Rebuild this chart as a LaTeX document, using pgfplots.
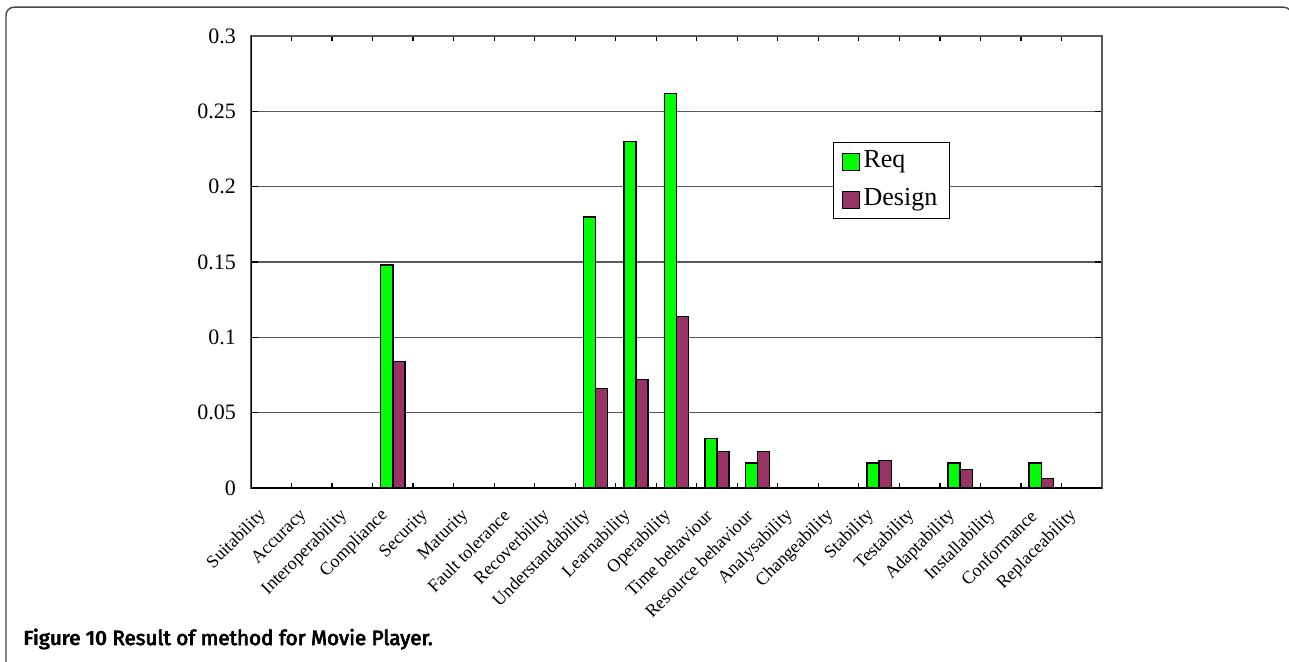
\documentclass[border=0pt]{standalone}
\usepackage{fontspec}
\setmainfont{Liberation Serif}
\newfontfamily\capfont{Fira Sans}
\newfontfamily\capmed{Fira Sans}[FakeBold=3.5]
\usepackage{pgfplots}
\pgfplotsset{compat=1.18}

\definecolor{reqgreen}{RGB}{0,255,0}
\definecolor{desplum}{RGB}{153,51,102}
\definecolor{gridgray}{RGB}{90,90,90}
\definecolor{framegray}{RGB}{70,70,70}

\begin{document}
\begin{tikzpicture}
\useasboundingbox (0,0) rectangle (644.5pt,-331pt);
% outer figure frame
\draw[framegray, line width=0.7pt, rounded corners=4pt] (3pt,-400pt) rectangle (645.8pt,-3.6pt);

\begin{axis}[
  at={(125.5pt,-244pt)}, anchor=south west,
  width=425.5pt, height=226pt, scale only axis,
  xmin=-0.5, xmax=20.5, ymin=0, ymax=0.3,
  ytick={0,0.05,...,0.3},
  /pgf/number format/assume math mode=true,
  /pgf/number format/fixed, /pgf/number format/precision=2,
  yticklabel style={font=\fontsize{11}{13}\selectfont, xshift=-4pt},
  ymajorgrids, grid style={gridgray, line width=0.6pt},
  xtick={0,...,20},
  xticklabels={Suitability,Accuracy,Interoperability,Compliance,Security,Maturity,Fault tolerance,Recoverbility,Understandability,Learnability,Operability,Time behaviour,Resource behaviour,Analysability,Changeability,Stability,Testability,Adaptability,Installability,Conformance,Replaceability},
  xticklabel style={font=\fontsize{9}{10}\selectfont, xshift=-3.5pt, yshift=-12pt, rotate=45, anchor=east, inner sep=0.5pt},
  minor xtick={-0.5,0.5,...,20.5},
  major x tick style={draw=none},
  tick align=inside,
  major tick length=3.5pt, minor tick length=2.5pt,
  tick style={black, line width=0.6pt},
  axis line style={gridgray, line width=0.6pt},
  axis on top=false,
  bar width=0.3,
  legend style={at={(rel axis cs:0.684,0.765)}, anchor=north west,
    draw=black, line width=0.5pt, fill=white,
    font=\fontsize{13}{15}\selectfont,
    inner xsep=4pt, inner ysep=1.5pt, row sep=3pt,
    nodes={inner sep=2pt, text height=9pt, text depth=3pt},
    cells={anchor=west}},
  legend image code/.code={\draw[#1, draw=black, line width=0.5pt] (0pt,-4.25pt) rectangle (8.5pt,4.25pt);},
]
\addplot[ybar, bar shift=-0.15, fill=reqgreen, draw=black, line width=0.7pt]
  coordinates {(3,0.148) (8,0.180) (9,0.230) (10,0.262) (11,0.033) (12,0.0167) (15,0.0167) (17,0.0167) (19,0.0167)};
\addlegendentry{Req}
\addplot[ybar, bar shift=0.15, fill=desplum, draw=black, line width=0.7pt]
  coordinates {(3,0.084) (8,0.066) (9,0.072) (10,0.114) (11,0.0244) (12,0.0244) (15,0.0184) (17,0.0123) (19,0.0063)};
\addlegendentry{Design}
% left and bottom axis lines in black
\draw[black, line width=0.7pt] (rel axis cs:0,1) -- (rel axis cs:0,0) -- (rel axis cs:1,0);
\end{axis}

\node[anchor=base west, inner sep=0pt] at (11.6pt,-322.5pt)
  {\fontsize{10.3}{12}\selectfont{\capfont\bfseries Figure 10} {\capmed Result of method for Movie Player.}};
\end{tikzpicture}
\end{document}
